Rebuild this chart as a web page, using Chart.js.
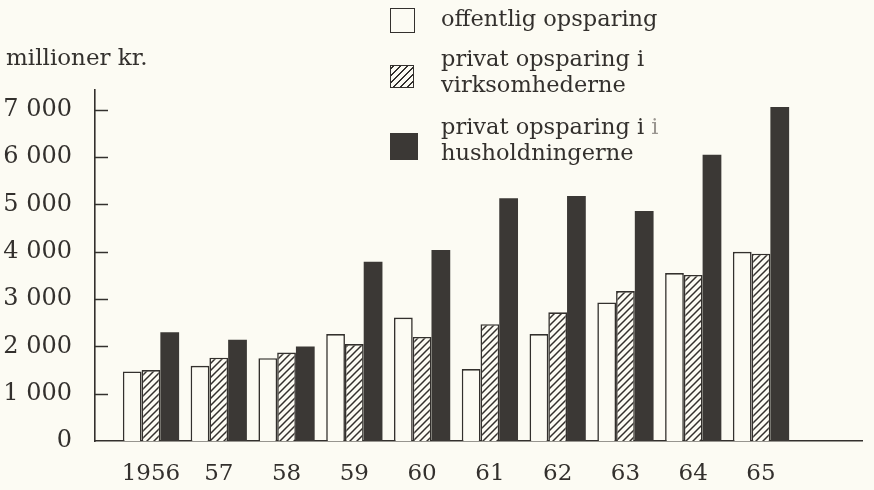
<!DOCTYPE html>
<html><head><meta charset="utf-8">
<script src="https://cdn.jsdelivr.net/npm/chart.js@4.4.1/dist/chart.umd.min.js"></script>
<style>
html,body{margin:0;padding:0;background:#fcfbf3;}
#wrap{position:relative;width:874px;height:490px;overflow:hidden;}
#c{position:absolute;left:0;top:0;}
.t{position:absolute;font-family:"DejaVu Serif";color:#33302d;white-space:nowrap;font-size:22.5px;line-height:26px;}
.box{position:absolute;box-sizing:border-box;}
</style></head>
<body><div id="wrap">
<canvas id="c" width="874" height="490"></canvas>
<div class="t" style="left:6px;top:44px;font-size:23px;">millioner kr.</div>
<div class="box" style="left:390px;top:8px;width:25px;height:25px;border:1.5px solid #33302d;background:#fcfbf3;"></div>
<div class="t" style="left:441px;top:5px;">offentlig opsparing</div>
<div class="box" style="left:390px;top:65px;width:24px;height:23px;border:1.5px solid #33302d;background:repeating-linear-gradient(-45deg,#fcfbf3 0 3.4px,#33302d 3.4px 4.9px);"></div>
<div class="t" style="left:441px;top:45px;">privat opsparing i<br>virksomhederne</div>
<div class="box" style="left:390px;top:133px;width:28px;height:27px;background:#3b3835;"></div>
<div class="t" style="left:441px;top:113px;">privat opsparing i <span style="color:#9a9690">i</span><br>husholdningerne</div>
</div>
<script>
const categories = ['1956','57','58','59','60','61','62','63','64','65'];
const offentlig = [1470,1590,1750,2260,2610,1520,2260,2930,3550,4000];
const virksomheder = [1500,1760,1870,2050,2200,2470,2720,3170,3510,3960];
const husholdninger = [2300,2140,2000,3790,4040,5130,5180,4860,6050,7060];
const yTickValues = [0,1000,2000,3000,4000,5000,6000,7000];
const yTickLabels = ['0','1 000','2 000','3 000','4 000','5 000','6 000','7 000'];
const seriesNames = ['offentlig opsparing','privat opsparing i virksomhederne','privat opsparing i husholdningerne'];

const BG = '#fcfbf3', INK = '#33302d', DARK = '#3b3835';

function hatch(){
  const s = 7, p = document.createElement('canvas');
  p.width = s; p.height = s;
  const g = p.getContext('2d');
  g.fillStyle = BG; g.fillRect(0,0,s,s);
  g.strokeStyle = INK; g.lineWidth = 1.5;
  g.beginPath();
  g.moveTo(-1, s+1); g.lineTo(s+1, -1);
  g.moveTo(-1, 1); g.lineTo(1, -1);
  g.moveTo(s-1, s+1); g.lineTo(s+1, s-1);
  g.stroke();
  return document.getElementById('c').getContext('2d').createPattern(p,'repeat');
}
const toPts = arr => arr.map((v,i)=>({x:i,y:v}));

const insideTicks = {
  id:'insideTicks',
  afterDatasetsDraw(chart){
    const ctx = chart.ctx, y = chart.scales.y, left = chart.chartArea.left;
    ctx.save(); ctx.strokeStyle = INK; ctx.lineWidth = 1.5;
    y.ticks.forEach(t=>{
      if (t.value === 0) return;
      const py = Math.round(y.getPixelForValue(t.value)) + 0.5;
      ctx.beginPath(); ctx.moveTo(left, py); ctx.lineTo(left+13, py); ctx.stroke();
    });
    ctx.restore();
  }
};

new Chart(document.getElementById('c'), {
  type:'bar',
  data:{ datasets:[
    {label:seriesNames[0], data:toPts(offentlig), backgroundColor:BG, borderColor:INK, borderWidth:1.6, borderSkipped:'start'},
    {label:seriesNames[1], data:toPts(virksomheder), backgroundColor:hatch(), borderColor:INK, borderWidth:1.6, borderSkipped:'start'},
    {label:seriesNames[2], data:toPts(husholdninger), backgroundColor:DARK, borderColor:DARK, borderWidth:0}
  ]},
  plugins:[insideTicks],
  options:{
    responsive:false, animation:false,
    layout:{padding:{top:90,right:12,left:0,bottom:0}},
    categoryPercentage:0.83, barPercentage:1.0,
    plugins:{legend:{display:false}, tooltip:{enabled:false}},
    scales:{
      x:{ type:'linear', min:-0.826, max:10.49, offset:false,
        grid:{display:false, drawTicks:false},
        border:{display:true, color:INK, width:1.6},
        afterBuildTicks:s=>{ s.ticks = categories.map((_,i)=>({value:i})); },
        afterFit:s=>{ s.height = 49; },
        ticks:{ autoSkip:false, maxRotation:0, padding:19, color:INK,
          font:{family:'DejaVu Serif', size:23},
          callback:v=>categories[v] }
      },
      y:{ min:0, max:7420,
        grid:{display:false, drawTicks:false},
        border:{display:true, color:INK, width:1.6},
        afterBuildTicks:s=>{ s.ticks = yTickValues.map(v=>({value:v})); },
        afterFit:s=>{ s.width = 95; },
        ticks:{ padding:23, color:INK, font:{family:'DejaVu Serif', size:24},
          callback:(v)=>yTickLabels[yTickValues.indexOf(v)] }
      }
    }
  }
});
</script>
</body></html>
